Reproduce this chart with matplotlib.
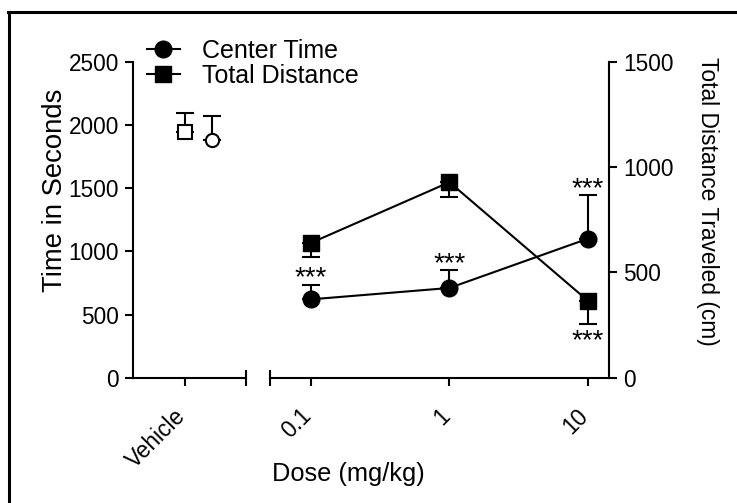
import matplotlib
matplotlib.use("Agg")
import matplotlib.pyplot as plt
from matplotlib.lines import Line2D
from matplotlib.transforms import ScaledTranslation

plt.rcParams['font.family'] = ['Liberation Sans', 'DejaVu Sans']

# Vehicle group
vehicle_label = ["Vehicle"]
vehicle_center_time = [1880]
vehicle_center_err = [190]
vehicle_distance = [1165]
vehicle_distance_err = [90]

# Dose groups
doses = [0.1, 1, 10]
dose_labels = ["0.1", "1", "10"]
center_time = [620, 710, 1100]
center_time_err = [117, 140, 342]
total_distance = [640, 928, 365]
total_distance_err = [67, 70, 110]

left_ticks = [0, 500, 1000, 1500, 2000, 2500]
right_ticks = [0, 500, 1000, 1500]

W, H = 737, 503
fig = plt.figure(figsize=(W / 100, H / 100), dpi=100)

def frac(x0, y_top, x1, y_bot):
    return [x0 / W, 1 - y_bot / H, (x1 - x0) / W, (y_bot - y_top) / H]

ax_v = fig.add_axes(frac(133, 61.7, 246, 377.7))
ax_d = fig.add_axes(frac(270, 61.7, 609, 377.7))
ax_vr = ax_v.twinx()
ax_dr = ax_d.twinx()

LW = 1.5
TICK_FS = 16.3
black = 'black'

for a in (ax_v, ax_d, ax_vr, ax_dr):
    for s in a.spines.values():
        s.set_visible(False)
        s.set_linewidth(LW)
    a.patch.set_visible(False)

ax_v.spines['left'].set_visible(True)
ax_v.spines['bottom'].set_visible(True)
ax_d.spines['bottom'].set_visible(True)
ax_dr.spines['right'].set_visible(True)

ax_v.set_ylim(0, 2500)
ax_d.set_ylim(0, 2500)
ax_vr.set_ylim(0, 1500)
ax_dr.set_ylim(0, 1500)

ax_v.set_xlim(-0.963, 1.13)
ax_d.set_xscale('log')
ax_d.set_xlim(10 ** -1.296, 10 ** 1.152)

ax_v.set_yticks(left_ticks)
ax_v.set_yticklabels([str(t) for t in left_ticks], fontsize=TICK_FS)
ax_v.set_xticks([0])
ax_v.set_xticklabels(vehicle_label, fontsize=TICK_FS, rotation=45,
                     ha='right', va='top', rotation_mode='anchor')
ax_d.set_xticks(doses)
ax_d.set_xticklabels(dose_labels, fontsize=TICK_FS, rotation=45,
                     ha='right', va='top', rotation_mode='anchor')
ax_d.xaxis.set_minor_locator(matplotlib.ticker.NullLocator())
ax_d.set_yticks([])
ax_vr.set_yticks([])
ax_dr.set_yticks(right_ticks)
ax_dr.set_yticklabels([str(t) for t in right_ticks], fontsize=TICK_FS)

for a in (ax_v, ax_d, ax_dr):
    a.tick_params(length=6, width=LW, direction='out', pad=4, colors=black)
ax_v.tick_params(axis='x', pad=8)
ax_d.tick_params(axis='x', pad=8)

# nudge the slanted category labels down and to the left
shift = ScaledTranslation(-0.115, -0.07, fig.dpi_scale_trans)
for lab in ax_v.get_xticklabels() + ax_d.get_xticklabels():
    lab.set_transform(lab.get_transform() + shift)

# break caps at the segment ends
cap = dict(marker='|', ms=11, mew=LW, color=black, clip_on=False)
ax_v.plot([1], [0], transform=ax_v.transAxes, **cap)
ax_d.plot([0], [0], transform=ax_d.transAxes, **cap)

MS_FILL = 12
MS_OPEN = 9.5
CAP = 6.5

# Vehicle (open symbols, square at the tick, circle dodged right)
ax_vr.errorbar([0], vehicle_distance, yerr=[[0], vehicle_distance_err],
               fmt='s', ms=MS_OPEN, mfc='white', mec=black, mew=LW,
               ecolor=black, elinewidth=LW, capsize=CAP, capthick=LW)
ax_v.errorbar([0.5], vehicle_center_time, yerr=[[0], vehicle_center_err],
              fmt='o', ms=MS_OPEN, mfc='white', mec=black, mew=LW,
              ecolor=black, elinewidth=LW, capsize=CAP, capthick=LW)

# Dose series
ax_d.errorbar(doses, center_time, yerr=[[0] * 3, center_time_err],
              fmt='-o', color=black, ms=MS_FILL, lw=LW,
              elinewidth=LW, capsize=CAP, capthick=LW, clip_on=False)
ax_dr.errorbar(doses, total_distance, yerr=[total_distance_err, [0] * 3],
               fmt='-s', color=black, ms=MS_FILL - 0.5, lw=LW,
               elinewidth=LW, capsize=CAP, capthick=LW, clip_on=False)

# significance marks
STAR_FS = 20
for x, v, e in zip(doses, center_time, center_time_err):
    ax_d.annotate('***', (x, v + e), xytext=(0, -0.5), textcoords='offset points',
                  ha='center', va='baseline', fontsize=STAR_FS)
ax_dr.annotate('***', (doses[2], total_distance[2] - total_distance_err[2]),
               xytext=(0, -17.5), textcoords='offset points',
               ha='center', va='baseline', fontsize=STAR_FS)

# axis titles
fig.text(55 / W, 1 - 190 / H, 'Time in Seconds', rotation=90,
         ha='center', va='center', fontsize=19.8)
fig.text(707 / W, 1 - 201 / H, 'Total Distance Traveled (cm)', rotation=-90,
         ha='center', va='center', fontsize=16.4)
fig.text(348 / W, 1 - 474 / H, 'Dose (mg/kg)', ha='center', va='center',
         fontsize=18.3)

# legend
handles = [Line2D([], [], color=black, lw=LW, marker='o', ms=MS_FILL),
           Line2D([], [], color=black, lw=LW, marker='s', ms=MS_FILL - 0.5)]
fig.legend(handles, ['Center Time', 'Total Distance'], loc='upper left',
           bbox_to_anchor=(147 / W, 1 - 38.5 / H), frameon=False,
           fontsize=18, handlelength=1.3, handletextpad=0.9,
           labelspacing=0.05, borderpad=0, borderaxespad=0)

# outer frame (top and left edges)
fig.add_artist(Line2D([8 / W, 735 / W], [1 - 12 / H, 1 - 12 / H],
                      transform=fig.transFigure, color=black, lw=2.2))
fig.add_artist(Line2D([9 / W, 9 / W], [0, 1 - 12 / H],
                      transform=fig.transFigure, color=black, lw=2.2))

fig.savefig('out.png', dpi=100)
